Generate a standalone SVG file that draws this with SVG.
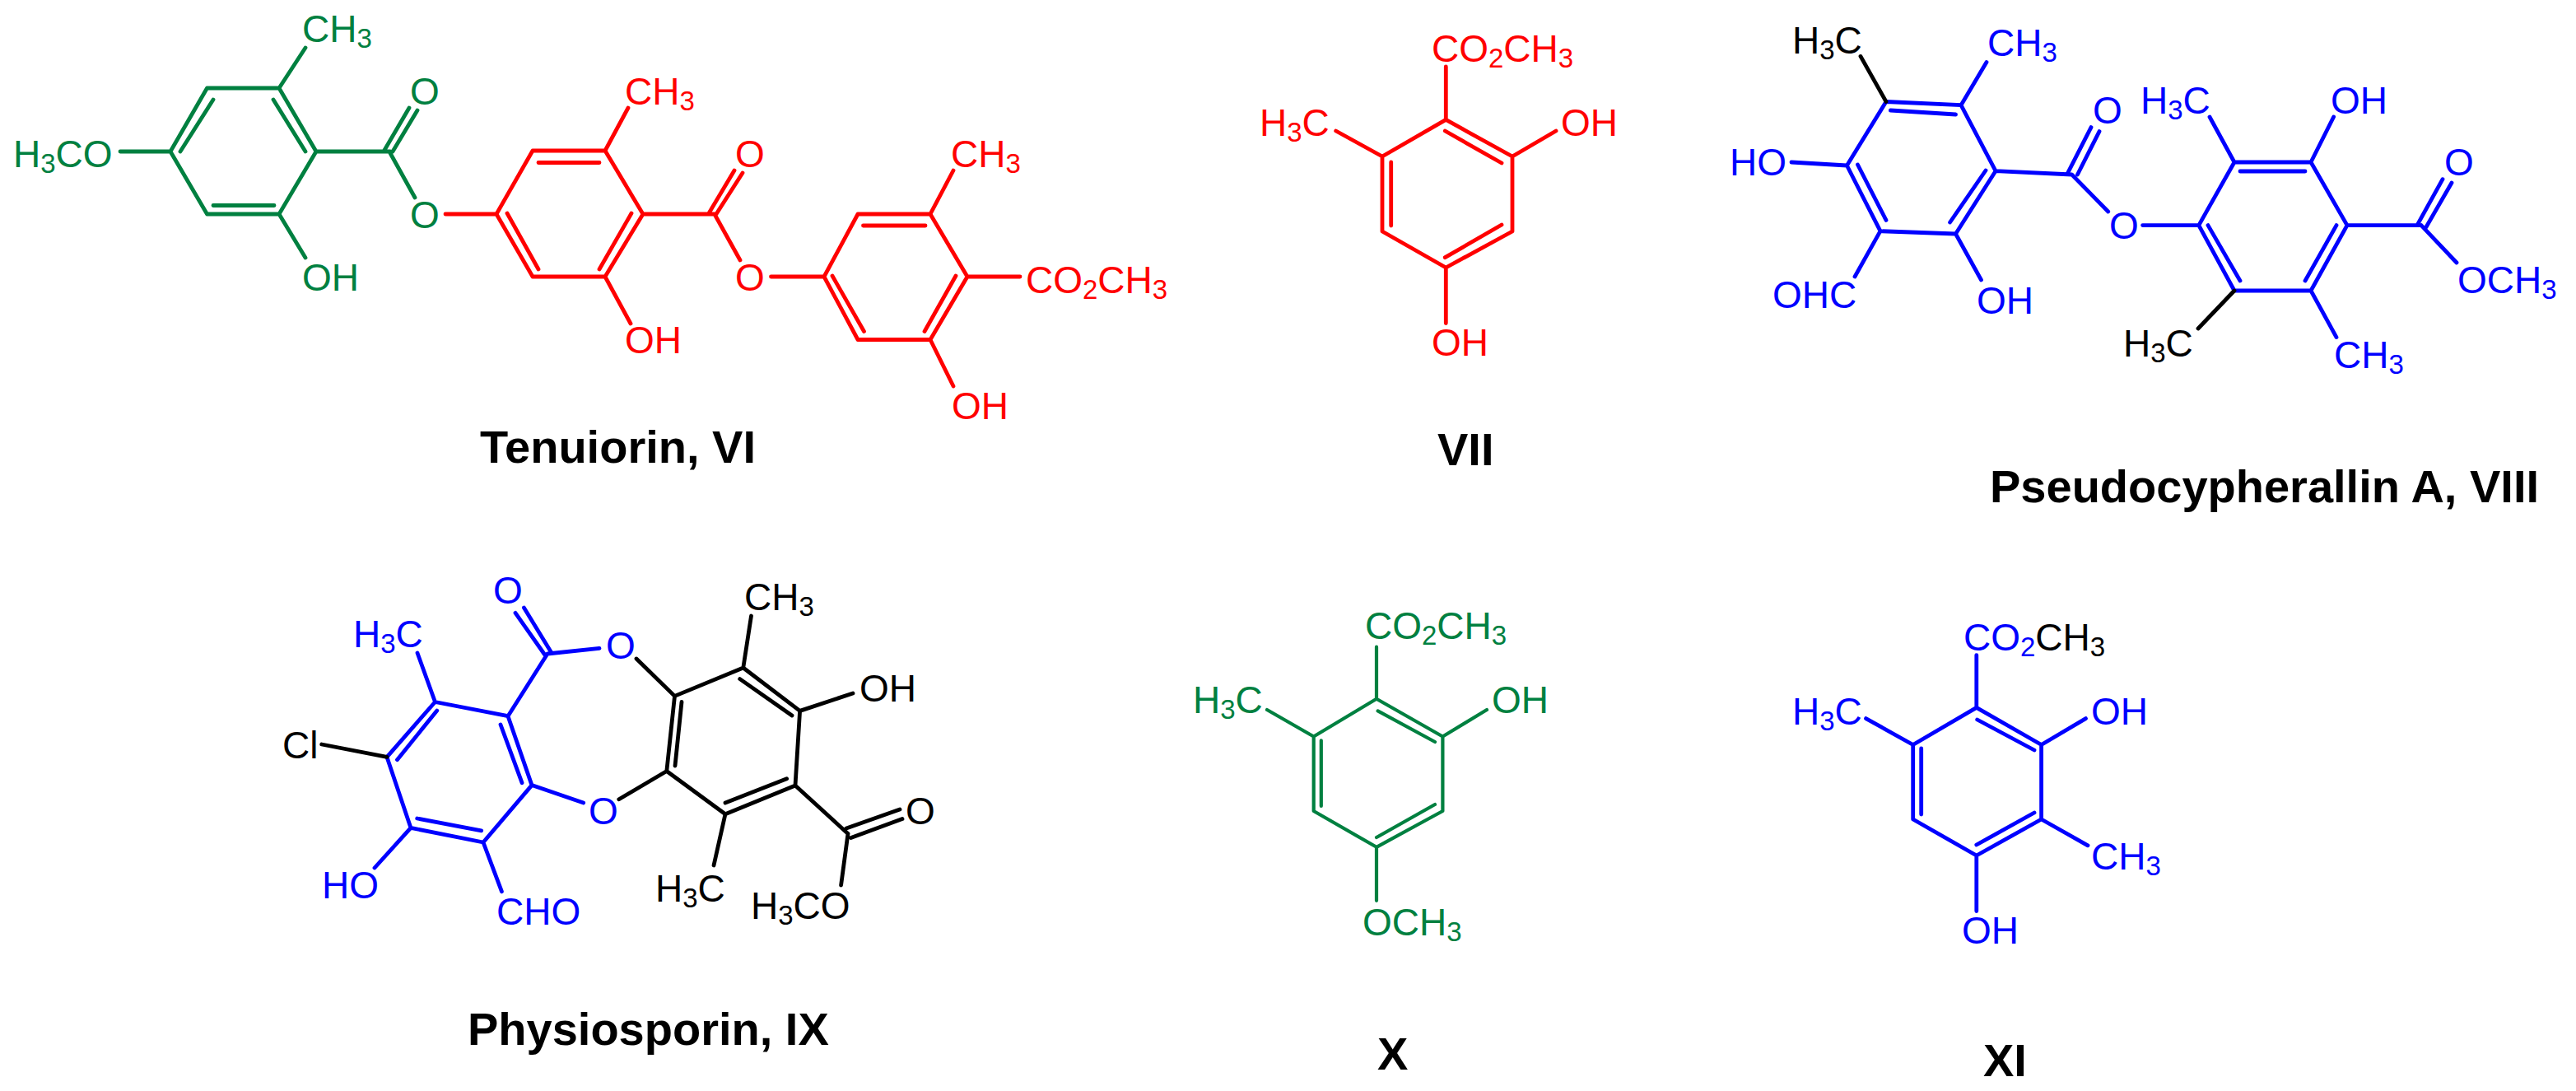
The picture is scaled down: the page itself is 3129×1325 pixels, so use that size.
<svg xmlns="http://www.w3.org/2000/svg" width="3129" height="1325" viewBox="0 0 3129 1325">
<style>
text{font-family:"Liberation Sans",Arial,sans-serif;font-size:46px}
.s{font-size:33px}
.t{font-size:56px;font-weight:bold;fill:#000}
.g{fill:#008040}.r{fill:#ff0000}.b{fill:#0000ff}.k{fill:#000}
path{fill:none;stroke-width:4.800;stroke-linecap:round;stroke-linejoin:round}
.lg{stroke:#008040}.lr{stroke:#ff0000}.lb{stroke:#0000ff}.lk{stroke:#000}
</style>
<rect width="3129" height="1325" fill="#fff"/>
<g id="tenuiorin-VI">
<path class="lg" d="M207 184L251.500 107H339L384 184L339 260H251.500ZM219 184L259 121M332 121L371 184M259 249.500H333M339 107L371 58M339 260L371 313M146 184H207M384 184H474M466 184L497 131M477 184L507 134M474 186L504 240"/>
<path class="lr" d="M541 260H603L647 183H735L781 260L735 336H647L603 260M654 197.500H728M616 259L654 327M767 259L728 327M735 183L763 131M735 336L766 393M781 260H869M861 259L892 207M870 260L902 210M869 262L899 316M936.500 336H1001L1042 260H1130L1175 336L1130 412.500H1042L1001 336M1048.500 274H1124M1011 335L1049.500 402.500M1161 335L1123 402.500M1130 260L1158 207M1130 412.500L1158 469M1175 336H1239"/>
<text class="g" x="16" y="203">H<tspan class="s" dy="7">3</tspan><tspan dy="-7">CO</tspan></text>
<text class="g" x="367" y="51">CH<tspan class="s" dy="7">3</tspan></text>
<text class="g" x="367" y="353">OH</text>
<text class="g" x="498" y="127">O</text>
<text class="g" x="498" y="277">O</text>
<text class="r" x="759" y="127">CH<tspan class="s" dy="7">3</tspan></text>
<text class="r" x="759" y="429">OH</text>
<text class="r" x="893" y="203">O</text>
<text class="r" x="893" y="353">O</text>
<text class="r" x="1155" y="203">CH<tspan class="s" dy="7">3</tspan></text>
<text class="r" x="1246" y="356">CO<tspan class="s" dy="7">2</tspan><tspan dy="-7">CH</tspan><tspan class="s" dy="7">3</tspan></text>
<text class="r" x="1156" y="509">OH</text>
<text class="t" x="583" y="562">Tenuiorin, VI</text>
</g>
<g id="compound-VII">
<path class="lr" d="M1756.300 145.400L1837 190V281L1756.300 325L1679 281V190ZM1755.300 159L1824 198M1689.700 197V274M1824 273L1755.300 312.700M1756.300 145.400V81M1679 190L1622.700 159M1837 190L1890 159M1756.300 325V392.600"/>
<text class="r" x="1739" y="75">CO<tspan class="s" dy="7">2</tspan><tspan dy="-7">CH</tspan><tspan class="s" dy="7">3</tspan></text>
<text class="r" x="1530" y="165">H<tspan class="s" dy="7">3</tspan><tspan dy="-7">C</tspan></text>
<text class="r" x="1896" y="165">OH</text>
<text class="r" x="1739" y="432">OH</text>
<text class="t" x="1746" y="565">VII</text>
</g>
<g id="pseudocypherallin-A-VIII">
<path class="lb" d="M2291 123.500L2382 127.700L2424 207.700L2375.500 284L2284 280.700L2243.400 201ZM2296.400 134L2375.500 139M2412 207L2368.600 270M2256.500 200L2291 267.400M2382 127.700L2413 75.500M2243.400 201L2176 197M2284 280.700L2253 336M2375.500 284L2406.500 340M2424 207.700L2516.600 212M2511 211.400L2540 154.600M2523.500 212L2550 159.600M2516.600 212L2560.700 257M2602.600 273.600H2670.800L2714 197H2807L2851 273.600L2807 353H2714L2670.800 273.600M2721 208H2800M2682 273.600L2721 341M2838 273.600L2800 341M2714 197L2684 142M2807 197L2834.600 142M2851 273.600H2941M2936 273.600L2967 217.700M2947 275.700L2978 222M2941 273.600L2984 319M2807 353L2838 409.600"/>
<path class="lk" d="M2291 123.500L2260 68.400M2714 353L2670 399"/>
<text class="k" x="2177" y="65">H<tspan class="s" dy="7">3</tspan><tspan dy="-7">C</tspan></text>
<text class="b" x="2414" y="68">CH<tspan class="s" dy="7">3</tspan></text>
<text class="b" x="2542" y="150">O</text>
<text class="b" x="2600" y="138">H<tspan class="s" dy="7">3</tspan><tspan dy="-7">C</tspan></text>
<text class="b" x="2831" y="138">OH</text>
<text class="b" x="2969" y="213">O</text>
<text class="b" x="2101" y="213">HO</text>
<text class="b" x="2562" y="290">O</text>
<text class="b" x="2985" y="356">OCH<tspan class="s" dy="7">3</tspan></text>
<text class="b" x="2153" y="374">OHC</text>
<text class="b" x="2401" y="381">OH</text>
<text class="k" x="2579" y="433">H<tspan class="s" dy="7">3</tspan><tspan dy="-7">C</tspan></text>
<text class="b" x="2835" y="447">CH<tspan class="s" dy="7">3</tspan></text>
<text class="t" x="2417" y="610">Pseudocypherallin A, VIII</text>
</g>
<g id="physiosporin-IX">
<path class="lb" d="M528.500 852.500L617 869.700L646 953.600L587 1023L499 1005.400L470 919.400ZM530.800 863L482.500 922.700M608 880L634 950.700M506.700 994L584.700 1008.800M528.500 852.500L507 793M499 1005.400L455 1054M587 1023L609.400 1082.700M617 869.700L665 794M661.600 795L626 744.400M670 793L636.400 738M665 794L728 787.400M646 953.600L708.700 975"/>
<path class="lk" d="M470 919.400L390.700 904M773 800L819.500 845.400M751.800 970.800L809.800 936.500M819.500 845.400L902.800 811L971.600 863.400L966 954L881 988.700L809.800 936.500ZM828 852.500L820 930M898.700 824.600L962 869M955.600 945.700L881 975M902.800 811L912.500 748M971.600 863.400L1036 842M966 954L1030 1012.500M1028 1006L1093 983M1033.600 1017.500L1096 994.600M1030 1012.500L1021.600 1075M881 988.700L867 1051"/>
<text class="b" x="599" y="733">O</text>
<text class="b" x="429" y="786">H<tspan class="s" dy="7">3</tspan><tspan dy="-7">C</tspan></text>
<text class="k" x="904" y="741">CH<tspan class="s" dy="7">3</tspan></text>
<text class="b" x="736" y="800">O</text>
<text class="k" x="1044" y="852">OH</text>
<text class="k" x="343" y="921">Cl</text>
<text class="b" x="715" y="1001">O</text>
<text class="k" x="1100" y="1001">O</text>
<text class="b" x="391" y="1091">HO</text>
<text class="b" x="603" y="1123">CHO</text>
<text class="k" x="796" y="1095">H<tspan class="s" dy="7">3</tspan><tspan dy="-7">C</tspan></text>
<text class="k" x="912" y="1116">H<tspan class="s" dy="7">3</tspan><tspan dy="-7">CO</tspan></text>
<text class="t" x="568" y="1269">Physiosporin, IX</text>
</g>
<g id="compound-X">
<path class="lg" d="M1672 848.700L1752.400 894.500V985L1672 1028.800L1595.700 985V894.500ZM1673.600 863.400L1743 901M1604.800 899.300V979M1743 977L1672 1017M1672 848.700V785.700M1595.700 894.500L1539 862M1752.400 894.500L1806 862M1672 1028.800V1093.800" style="stroke-width:4.200"/>
<text class="g" x="1658" y="776">CO<tspan class="s" dy="7">2</tspan><tspan dy="-7">CH</tspan><tspan class="s" dy="7">3</tspan></text>
<text class="g" x="1449" y="866">H<tspan class="s" dy="7">3</tspan><tspan dy="-7">C</tspan></text>
<text class="g" x="1812" y="866">OH</text>
<text class="g" x="1655" y="1136">OCH<tspan class="s" dy="7">3</tspan></text>
<text class="t" x="1673" y="1299">X</text>
</g>
<g id="compound-XI">
<path class="lb" d="M2400.800 859.400L2479.600 904.500V995L2400.800 1039L2323.700 995V904.500ZM2401.700 874L2471 911M2333.700 909V989M2471 987L2400.800 1026M2400.800 859.400V795.600M2323.700 904.500L2266.500 872.600M2479.600 904.500L2533.500 872.600M2479.600 995L2536 1026.800M2400.800 1039V1106.500"/>
<text class="b" x="2385" y="790">CO<tspan class="s" dy="7">2</tspan><tspan dy="-7" class="k">CH</tspan><tspan class="s k" dy="7">3</tspan></text>
<text class="b" x="2177" y="880">H<tspan class="s" dy="7">3</tspan><tspan dy="-7">C</tspan></text>
<text class="b" x="2540" y="880">OH</text>
<text class="b" x="2540" y="1056">CH<tspan class="s" dy="7">3</tspan></text>
<text class="b" x="2383" y="1146">OH</text>
<text class="t" x="2409" y="1307">XI</text>
</g>
</svg>
